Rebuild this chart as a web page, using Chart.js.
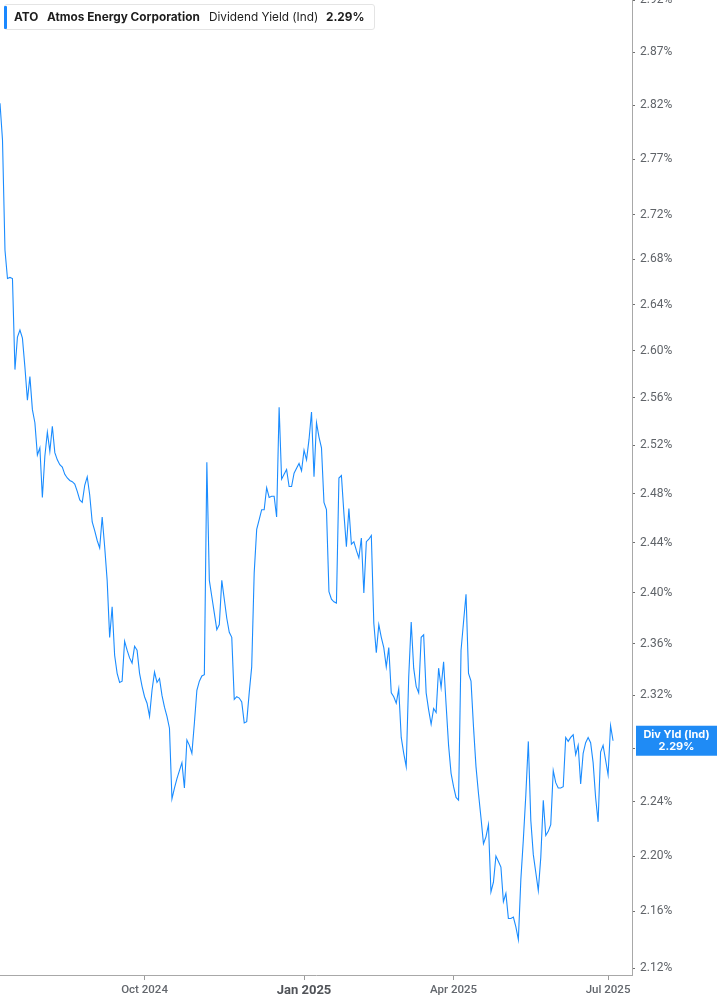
<!DOCTYPE html>
<html>
<head>
<meta charset="utf-8">
<script src="https://cdn.jsdelivr.net/npm/chart.js@4.4.1/dist/chart.umd.min.js"></script>
<style>
  html, body { margin: 0; padding: 0; background: #ffffff; }
  #wrap { position: relative; width: 717px; height: 1005px; overflow: hidden; }
  #legend { position: absolute; left: 4px; top: 4px; width: 371px; height: 26px; box-sizing: border-box;
    border: 1px solid #e4e4e4; border-radius: 3px; background: #fff; font-family: Inter, "Noto Sans", sans-serif;
    font-size: 11.8px; color: #1d1d1d; }
  #legend .bar { position: absolute; left: -1px; top: 1px; width: 3px; height: 23px; background: #1a88ff; border-radius: 1px; }
  #legend span { position: absolute; top: 5px; white-space: nowrap; line-height: 15px; }
  .b { font-weight: 700; }
</style>
</head>
<body>
<div id="wrap">
  <canvas id="c" width="717" height="1005"></canvas>
  <div id="legend">
    <div class="bar"></div>
    <span class="b" id="lgTicker" style="left:9px"></span>
    <span class="b" id="lgName" style="left:42px"></span>
    <span id="lgMetric" style="left:204px"></span>
    <span class="b" id="lgValue" style="left:321px"></span>
  </div>
</div>
<script>
// ---------------- data ----------------
const ticker = "ATO";
const companyName = "Atmos Energy Corporation";
const metricName = "Dividend Yield (Ind)";
const badgeTitle = "Div Yld (Ind)";

const startDate = "2024-07-10";
const endDate = "2025-07-03";
const marketHolidays = ["2024-09-02","2024-11-28","2024-12-25","2025-01-01","2025-01-09",
  "2025-01-20","2025-02-17","2025-04-18","2025-05-26","2025-06-19"];

// dividend yield (%) per trading day
const yieldValues = [
  2.822,2.788,2.688,2.663,2.664,2.663,2.584,2.612,2.618,2.611,
  2.586,2.558,2.578,2.550,2.539,2.512,2.518,2.477,2.511,2.531,
  2.515,2.536,2.514,2.508,2.504,2.502,2.496,2.493,2.491,2.490,
  2.488,2.482,2.475,2.473,2.487,2.494,2.479,2.457,2.450,2.442,
  2.436,2.461,2.437,2.410,2.365,2.389,2.351,2.337,2.330,2.331,
  2.362,2.355,2.349,2.345,2.358,2.355,2.337,2.327,2.319,2.314,
  2.304,2.324,2.338,2.330,2.333,2.320,2.311,2.304,2.295,2.242,
  2.250,2.257,2.263,2.269,2.250,2.286,2.282,2.276,2.299,2.324,
  2.331,2.335,2.336,2.506,2.410,2.397,2.384,2.371,2.375,2.410,
  2.395,2.380,2.369,2.365,2.317,2.319,2.318,2.315,2.299,2.300,
  2.322,2.342,2.416,2.451,2.459,2.467,2.467,2.485,2.477,2.478,
  2.478,2.461,2.552,2.492,2.496,2.500,2.486,2.486,2.497,2.501,
  2.505,2.499,2.516,2.508,2.525,2.548,2.494,2.539,2.527,2.518,
  2.473,2.467,2.401,2.395,2.393,2.392,2.493,2.495,2.464,2.437,
  2.468,2.439,2.441,2.434,2.428,2.444,2.400,2.441,2.443,2.446,
  2.376,2.353,2.375,2.365,2.357,2.342,2.357,2.322,2.319,2.314,
  2.325,2.288,2.276,2.266,2.334,2.377,2.341,2.327,2.322,2.365,
  2.367,2.322,2.309,2.298,2.310,2.307,2.341,2.326,2.346,2.313,
  2.282,2.261,2.251,2.243,2.241,2.355,2.377,2.399,2.337,2.331,
  2.296,2.266,2.246,2.228,2.209,2.214,2.223,2.174,2.181,2.200,
  2.196,2.192,2.167,2.173,2.155,2.155,2.156,2.149,2.140,2.183,
  2.212,2.245,2.285,2.226,2.201,2.188,2.175,2.199,2.241,2.215,
  2.218,2.223,2.263,2.254,2.250,2.250,2.251,2.288,2.285,2.288,
  2.290,2.275,2.282,2.253,2.276,2.284,2.288,2.284,2.269,2.243,
  2.225,2.277,2.282,2.271,2.260,2.297,2.2855
];

const yTickValues = [2.12,2.16,2.20,2.24,2.28,2.32,2.36,2.40,2.44,2.48,2.52,2.56,2.60,2.64,2.68,2.72,2.77,2.82,2.87,2.92];
const yMin = 2.1151, yMax = 2.920;
const xTickMonths = [9, 0, 3, 6];           // Oct, Jan, Apr, Jul
const monthNames = ["Jan","Feb","Mar","Apr","May","Jun","Jul","Aug","Sep","Oct","Nov","Dec"];
const xPadDays = 7.6;

// ---------------- build trading-day calendar ----------------
function tradingDays(s, e, hol) {
  const out = [];
  const d = new Date(s + "T00:00:00Z"), end = new Date(e + "T00:00:00Z");
  while (d <= end) {
    const iso = d.toISOString().slice(0, 10);
    const wd = d.getUTCDay();
    if (wd !== 0 && wd !== 6 && !hol.includes(iso)) out.push(iso);
    d.setUTCDate(d.getUTCDate() + 1);
  }
  return out;
}
const dates = tradingDays(startDate, endDate, marketHolidays);

const xTicks = [];
for (let i = 1; i < dates.length; i++) {
  const m = +dates[i].slice(5, 7) - 1, pm = +dates[i - 1].slice(5, 7) - 1;
  if (m !== pm && xTickMonths.includes(m)) xTicks.push({ value: i, label: monthNames[m] + " " + dates[i].slice(0, 4), bold: m === 0 });
}
function findTick(ctx) {
  if (!ctx || !ctx.tick) return null;
  return xTicks.find(k => k.value === ctx.tick.value) || null;
}

const points = yieldValues.map((v, i) => ({ x: i, y: v }));
const lastVal = yieldValues[yieldValues.length - 1];

document.getElementById("lgTicker").textContent = ticker;
document.getElementById("lgName").textContent = companyName;
document.getElementById("lgMetric").textContent = metricName;
document.getElementById("lgValue").textContent = lastVal.toFixed(2) + "%";

const LINE = "#1a8cff";

const badgePlugin = {
  id: "badge",
  afterDraw(chart) {
    const ys = chart.scales.y;
    const ctx = chart.ctx;
    const cy = ys.getPixelForValue(lastVal);
    const left = chart.chartArea.right + 4;
    ctx.save();
    ctx.fillStyle = "#1f8bf5";
    ctx.fillRect(left, cy - 15, chart.width - left, 30);
    ctx.fillStyle = "#ffffff";
    ctx.textAlign = "center";
    ctx.textBaseline = "middle";
    ctx.font = "700 11px Inter, 'Noto Sans', sans-serif";
    const cx = left + (chart.width - left) / 2;
    ctx.fillText(badgeTitle, cx, cy - 6);
    ctx.fillText(lastVal.toFixed(2) + "%", cx, cy + 6);
    ctx.restore();
  }
};

new Chart(document.getElementById("c"), {
  type: "line",
  data: {
    datasets: [{
      data: points,
      borderColor: LINE,
      borderWidth: 1.1,
      pointRadius: 0,
      tension: 0,
      fill: false
    }]
  },
  options: {
    responsive: false,
    animation: false,
    devicePixelRatio: 1,
    layout: { padding: 0 },
    plugins: { legend: { display: false }, tooltip: { enabled: false } },
    scales: {
      x: {
        type: "linear",
        min: 0,
        max: yieldValues.length - 1 + xPadDays,
        afterBuildTicks(s) { s.ticks = xTicks.map(t => ({ value: t.value })); },
        afterFit(s) { s.height = 30; s.paddingLeft = 0; s.paddingRight = 0; },
        grid: { display: true, drawOnChartArea: false, drawTicks: true, tickLength: 5, color: "#9a9a9a" },
        border: { display: true, color: "#a8a8a8", width: 1 },
        ticks: {
          autoSkip: false,
          maxRotation: 0,
          padding: 3,
          color: ctx => { const t = findTick(ctx); return t && t.bold ? "#505358" : "#63676d"; },
          font: ctx => { const t = findTick(ctx); return t && t.bold ? { family: "Roboto", size: 13, weight: "bold" } : { family: "Roboto", size: 11.5, weight: "500" }; },
          callback: v => { const t = xTicks.find(k => k.value === v); return t ? t.label : ""; }
        }
      },
      y: {
        type: "logarithmic",
        position: "right",
        min: yMin,
        max: yMax,
        afterBuildTicks(s) { s.ticks = yTickValues.map(v => ({ value: v })); },
        afterFit(s) { s.width = 85; s.paddingTop = 0; s.paddingBottom = 0; },
        grid: { display: true, drawOnChartArea: false, drawTicks: true, tickLength: 3, color: "#6f6f6f" },
        border: { display: true, color: "#a8a8a8", width: 1 },
        ticks: {
          autoSkip: false,
          padding: 5,
          color: "#5f6368",
          font: { family: "Roboto", size: 12 },
          callback: v => Number(v).toFixed(2) + "%"
        }
      }
    }
  },
  plugins: [badgePlugin]
});
</script>
</body>
</html>
